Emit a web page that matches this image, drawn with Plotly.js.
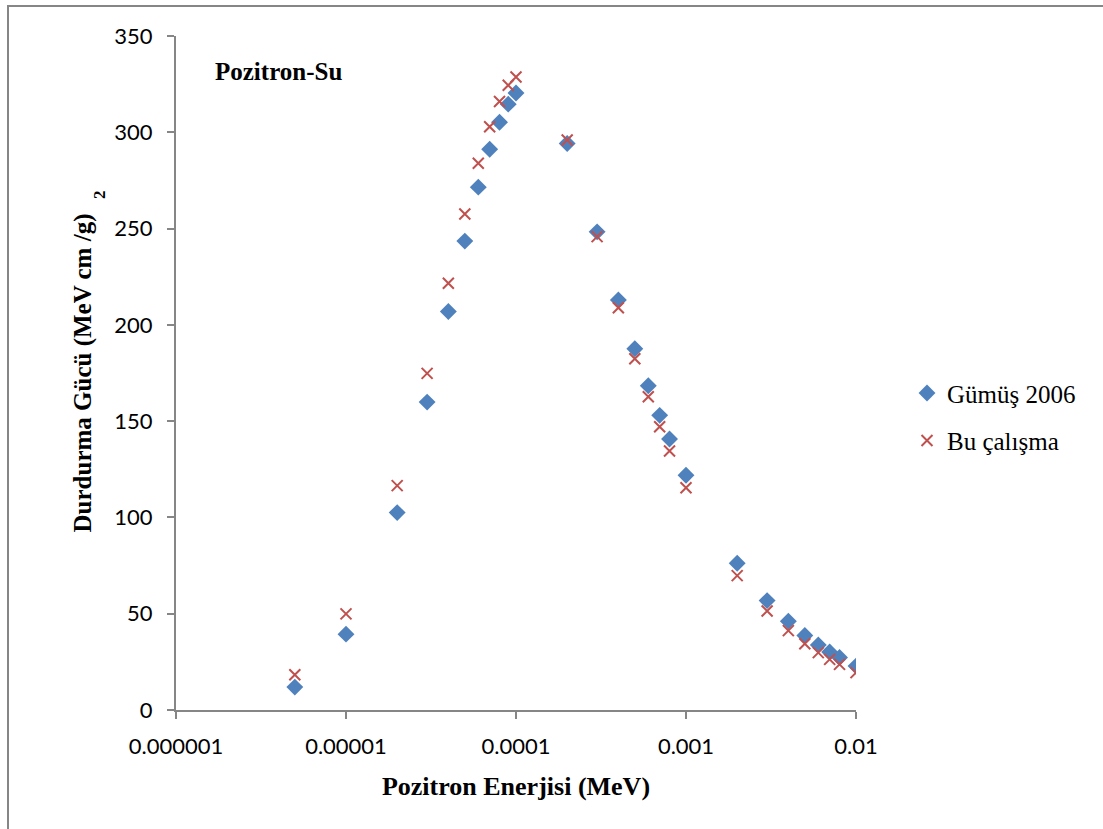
<!DOCTYPE html>
<html>
<head>
<meta charset="utf-8">
<script src="https://cdn.plot.ly/plotly-3.0.1.min.js"></script>
<style>html,body{margin:0;padding:0;background:#fff;}#chart{width:1103px;height:829px;}</style>
</head>
<body>
<div id="chart"></div>
<script>
// Energies (MeV)
const energy = [5e-6, 1e-5, 2e-5, 3e-5, 4e-5, 5e-5, 6e-5, 7e-5, 8e-5, 9e-5, 1e-4,
                2e-4, 3e-4, 4e-4, 5e-4, 6e-4, 7e-4, 8e-4, 1e-3,
                2e-3, 3e-3, 4e-3, 5e-3, 6e-3, 7e-3, 8e-3, 1e-2];
// Gümüş 2006 stopping power (MeV cm2/g)
const gumus2006 = [11.9, 39.4, 102.5, 159.9, 206.9, 243.5, 271.5, 291.2, 305.2, 314.6, 320.4,
                   294.2, 248.3, 212.9, 187.6, 168.4, 153.0, 140.7, 121.9,
                   76.2, 56.8, 46.1, 38.7, 33.8, 30.1, 27.3, 22.8];
// Bu çalışma stopping power (MeV cm2/g)
const buCalisma = [18.3, 49.9, 116.5, 174.8, 221.6, 257.6, 283.9, 302.9, 316.0, 324.4, 328.7,
                   296.0, 245.8, 208.9, 182.4, 162.7, 147.1, 134.5, 115.4,
                   69.8, 51.4, 41.2, 34.4, 29.8, 26.3, 23.7, 19.4];
const xTickVals = [1e-6, 1e-5, 1e-4, 1e-3, 1e-2];
const xTickText = ["0.000001", "0.00001", "0.0001", "0.001", "0.01"];
const yTickVals = [0, 50, 100, 150, 200, 250, 300, 350];

const serif = "Liberation Serif, Times New Roman, serif";
const sans = "Lato, Carlito, Calibri, sans-serif";

const traces = [
  {
    x: energy, y: gumus2006, type: "scatter", mode: "markers", name: "Gümüş 2006",
    legendgroup: "a",
    marker: {symbol: "diamond", size: 13, color: "#4F81BD", line: {width: 0}}
  },
  {
    x: energy, y: buCalisma, type: "scatter", mode: "markers", name: "Bu çalışma",
    legendgroup: "b",
    marker: {symbol: "x-thin-open", size: 11, color: "#C0504D", line: {width: 2, color: "#C0504D"}}
  }
];

const layout = {
  width: 1103, height: 829,
  paper_bgcolor: "#ffffff", plot_bgcolor: "#ffffff",
  margin: {l: 176, r: 247, t: 36, b: 119, pad: 0},
  showlegend: true,
  legend: {
    x: 1.075, y: 0.435, xanchor: "left", yanchor: "middle",
    font: {family: serif, size: 25, color: "#000"},
    traceorder: "grouped", tracegroupgap: 12,
    itemwidth: 30, bgcolor: "rgba(0,0,0,0)"
  },
  xaxis: {
    type: "log", range: [-6, -2], autorange: false,
    tickmode: "array", tickvals: xTickVals, ticktext: xTickText,
    ticks: "outside", ticklen: 7, tickwidth: 2, tickcolor: "#868686",
    showline: true, linecolor: "#868686", linewidth: 2,
    showgrid: false, zeroline: false,
    tickfont: {family: sans, size: 22, color: "#000"},
    ticklabelstandoff: 9,
    title: {text: "Pozitron Enerjisi (MeV)", font: {family: serif, size: 26, color: "#000", weight: "bold"}, standoff: 18}
  },
  yaxis: {
    range: [0, 350], autorange: false,
    tickmode: "array", tickvals: yTickVals,
    ticks: "outside", ticklen: 7, tickwidth: 2, tickcolor: "#868686",
    showline: true, linecolor: "#868686", linewidth: 2,
    showgrid: false, zeroline: false,
    tickfont: {family: sans, size: 22, color: "#000"},
    ticklabelstandoff: 10,
    title: {text: "Durdurma Gücü (MeV cm /g)", font: {family: serif, size: 25, color: "#000", weight: "bold"}, standoff: 16}
  },
  annotations: [
    {xref: "paper", yref: "paper", x: (213 - 176) / 680, y: (710 - 72) / 674,
     xanchor: "left", yanchor: "middle", showarrow: false,
     text: "<b>Pozitron-Su</b>", font: {family: serif, size: 25, color: "#000"}},
    {xref: "paper", yref: "paper", x: (99 - 176) / 680, y: (710 - 195) / 674,
     xanchor: "center", yanchor: "middle", showarrow: false, textangle: -90,
     text: "<b>2</b>", font: {family: serif, size: 17, color: "#000"}}
  ],
  shapes: [
    {type: "rect", xref: "paper", yref: "paper",
     x0: (8 - 176) / 680, x1: (1120 - 176) / 680,
     y0: (710 - 845) / 674, y1: (710 - 6) / 674,
     line: {color: "#868686", width: 2}, fillcolor: "rgba(0,0,0,0)", layer: "below"}
  ]
};

Plotly.newPlot("chart", traces, layout, {displayModeBar: false, staticPlot: true});
</script>
</body>
</html>
